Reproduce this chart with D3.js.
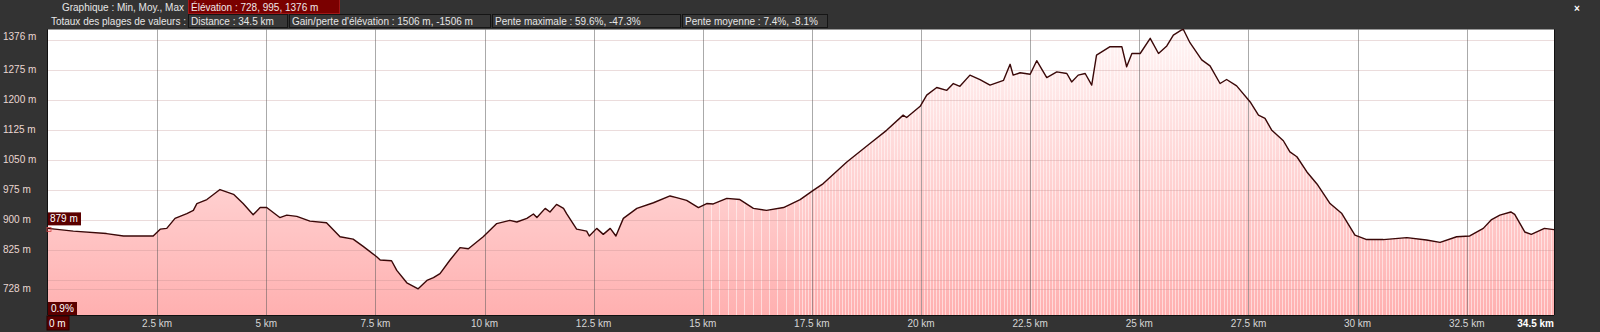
<!DOCTYPE html>
<html><head><meta charset="utf-8">
<script src="https://cdn.jsdelivr.net/npm/d3@7"></script>
<style>
html,body{margin:0;padding:0;background:#333;overflow:hidden}
svg{display:block}
text{font-family:"Liberation Sans",Arial,sans-serif;font-size:10px}
</style></head>
<body>
<svg id="c" width="1600" height="332"></svg>
<script>
// ---------- DATA ----------
const distanceKm = [0,0.58,1.34,1.73,2.41,2.57,2.72,2.91,3.18,3.33,3.41,3.64,3.94,4.25,4.47,4.70,4.86,5.01,5.31,5.47,5.70,6.00,6.38,6.69,6.99,7.22,7.53,7.61,7.87,7.99,8.22,8.48,8.68,8.83,8.98,9.21,9.44,9.63,9.97,10.28,10.58,10.74,10.97,11.12,11.20,11.39,11.50,11.65,11.81,11.88,12.11,12.34,12.40,12.57,12.72,12.88,13.01,13.18,13.49,13.87,14.25,14.40,14.63,14.90,15.09,15.24,15.55,15.85,16.16,16.46,16.85,17.23,17.53,17.76,18.30,18.83,19.21,19.59,19.67,19.98,20.13,20.36,20.59,20.74,20.89,21.12,21.35,21.58,21.89,22.04,22.11,22.27,22.50,22.65,22.88,23.11,23.34,23.45,23.60,23.76,23.91,24.02,24.33,24.60,24.71,24.83,25.02,25.25,25.44,25.63,25.78,25.97,26.01,26.16,26.43,26.62,26.85,27.00,27.23,27.54,27.73,27.88,28.03,28.30,28.45,28.61,28.84,29.07,29.37,29.64,29.94,30.21,30.59,31.13,31.58,31.89,32.27,32.57,32.88,33.07,33.26,33.51,33.60,33.83,33.98,34.28,34.5];
const elevationM = [879,872,866,860,860,877,879,904,916,924,941,951,976,964,941,913,931,931,906,912,909,897,893,858,852,834,808,800,798,774,743,728,749,756,766,800,831,828,858,891,899,895,904,915,906,929,920,939,929,916,877,872,860,879,864,879,860,904,929,943,960,956,949,931,941,940,954,951,929,924,931,951,974,991,1045,1091,1124,1162,1156,1184,1212,1231,1224,1241,1234,1262,1251,1237,1249,1289,1262,1268,1264,1298,1256,1270,1266,1245,1262,1266,1237,1312,1333,1333,1283,1316,1316,1354,1316,1335,1362,1375,1376,1343,1300,1285,1241,1251,1235,1195,1162,1154,1125,1098,1070,1058,1020,990,941,916,862,851,851,856,850,844,858,860,879,901,912,920,914,870,864,879,876];

const yGridValues = [1350,1275,1200,1125,1050,975,900,825,750,728];
const yLabelValues = [1376,1275,1200,1125,1050,975,900,825,728];
const yLabels = ["1376 m","1275 m","1200 m","1125 m","1050 m","975 m","900 m","825 m","728 m"];
const xTickValues = [0,2.5,5,7.5,10,12.5,15,17.5,20,22.5,25,27.5,30,32.5,34.5];
const xTickLabels = ["0 m","2.5 km","5 km","7.5 km","10 km","12.5 km","15 km","17.5 km","20 km","22.5 km","25 km","27.5 km","30 km","32.5 km","34.5 km"];

const headerRow1Label = "Graphique : Min, Moy., Max";
const headerRow1Value = "Élévation : 728, 995, 1376 m";
const headerRow2Label = "Totaux des plages de valeurs :";
const headerRow2Values = ["Distance : 34.5 km","Gain/perte d'élévation : 1506 m, -1506 m","Pente maximale : 59.6%, -47.3%","Pente moyenne : 7.4%, -8.1%"];
const startLabel = "879 m";
const slopeLabel = "0.9%";

// ---------- LAYOUT ----------
const L = 48, R = 1554, T = 29.5, B = 315;
const svg = d3.select("#c");
const x = d3.scaleLinear().domain([0, 34.5]).range([L, R]);
const y = d3.scaleLinear().domain([662.5, 1376]).range([B, T]);
const data = distanceKm.map((d,i)=>({d, e: elevationM[i]}));

// background
svg.append("rect").attr("width",1600).attr("height",332).attr("fill","#333");
svg.append("rect").attr("x",L).attr("y",T).attr("width",R-L).attr("height",B-T).attr("fill","#fff");

const defs = svg.append("defs");
const grad = defs.append("linearGradient").attr("id","fillg").attr("gradientUnits","userSpaceOnUse")
  .attr("x1",0).attr("y1",T).attr("x2",0).attr("y2",B);
grad.append("stop").attr("offset","0").attr("stop-color","#fff6f6");
grad.append("stop").attr("offset","0.55").attr("stop-color","#ffd0d0");
grad.append("stop").attr("offset","1").attr("stop-color","#ffb0b0");

const area = d3.area().x(d=>x(d.d)).y0(B).y1(d=>y(d.e));
const line = d3.line().x(d=>x(d.d)).y(d=>y(d.e));

defs.append("clipPath").attr("id","areaclip").append("path").attr("d", area(data));

svg.append("path").attr("d", area(data)).attr("fill","url(#fillg)");

// sample stripes (rendering artefact of the original)
const stripes = d3.range(15.0, 17.2, 0.19).concat(d3.range(17.2, 34.45, 0.07));
svg.append("g").attr("clip-path","url(#areaclip)").selectAll("line").data(stripes).join("line")
  .attr("x1",d=>Math.round(x(d))+0.5).attr("x2",d=>Math.round(x(d))+0.5)
  .attr("y1",T).attr("y2",B).attr("stroke","#fff").attr("stroke-opacity",0.5).attr("stroke-width",1);

// grid
svg.append("g").selectAll("line").data(yGridValues).join("line")
  .attr("x1",L).attr("x2",R).attr("y1",d=>Math.round(y(d))+0.5).attr("y2",d=>Math.round(y(d))+0.5)
  .attr("stroke","rgb(190,140,140)").attr("stroke-opacity",0.3);
svg.append("g").selectAll("line").data(xTickValues.filter(v=>v>0 && v<34.5)).join("line")
  .attr("x1",d=>Math.round(x(d))+0.5).attr("x2",d=>Math.round(x(d))+0.5).attr("y1",T).attr("y2",B)
  .attr("stroke","#555").attr("stroke-opacity",0.5);

// profile line
svg.append("path").attr("d", line(data)).attr("fill","none").attr("stroke","#3a0808").attr("stroke-width",1.4).attr("stroke-linejoin","round");

// plot frame
svg.append("line").attr("x1",L-0.5).attr("x2",L-0.5).attr("y1",T).attr("y2",B).attr("stroke","#111");
svg.append("line").attr("x1",R+0.5).attr("x2",R+0.5).attr("y1",T).attr("y2",B).attr("stroke","#111");
svg.append("line").attr("x1",L).attr("x2",R).attr("y1",B+0.5).attr("y2",B+0.5).attr("stroke","#111");

// y labels
svg.append("g").selectAll("text").data(yLabelValues).join("text")
  .attr("x",3).attr("y",(d)=>Math.max(y(d),36)+3.5).attr("fill","#ead7d2").text((d,i)=>yLabels[i]);

// x labels
const xl = svg.append("g");
xTickValues.forEach((v,i)=>{
  if(i===0){
    xl.append("rect").attr("x",47).attr("y",316).attr("width",22).attr("height",14).attr("fill","#5a0000").attr("stroke","#2a0000");
    xl.append("text").attr("x",49).attr("y",327).attr("fill","#fff").text(xTickLabels[i]);
  } else if(i===xTickValues.length-1){
    xl.append("text").attr("x",x(v)).attr("y",327).attr("text-anchor","end").attr("fill","#fff").attr("font-weight","bold").text(xTickLabels[i]);
  } else {
    xl.append("text").attr("x",x(v)).attr("y",327).attr("text-anchor","middle").attr("fill","#d6d6d6").text(xTickLabels[i]);
  }
});

// start value label
const y0 = y(elevationM[0]);
svg.append("rect").attr("x",48).attr("y",y0-16).attr("width",33).attr("height",13).attr("fill","#5a0000");
svg.append("text").attr("x",50).attr("y",y0-6).attr("fill","#fff").text(startLabel);
svg.append("rect").attr("x",47).attr("y",y0-1).attr("width",4).attr("height",4).attr("fill","none").attr("stroke","#d04040").attr("stroke-width",0.8);
// slope label
svg.append("rect").attr("x",48).attr("y",302).attr("width",29).attr("height",13).attr("fill","#5a0000");
svg.append("text").attr("x",51).attr("y",312).attr("fill","#fff").text(slopeLabel);

// header
const h = svg.append("g");
h.append("text").attr("x",184).attr("y",10.5).attr("text-anchor","end").attr("fill","#e6e6e6").text(headerRow1Label);
h.append("rect").attr("x",188.5).attr("y",-0.5).attr("width",151).attr("height",14).attr("fill","#7a0000").attr("stroke","#a01818");
h.append("text").attr("x",191).attr("y",10.5).attr("fill","#f0e8e8").text(headerRow1Value);
h.append("text").attr("x",186).attr("y",25).attr("text-anchor","end").attr("fill","#e6e6e6").text(headerRow2Label);
const boxX = [188, 289, 492, 682], boxW = [99, 201, 188, 145];
headerRow2Values.forEach((t,i)=>{
  h.append("rect").attr("x",boxX[i]+0.5).attr("y",14.5).attr("width",boxW[i]).attr("height",13).attr("fill","#383838").attr("stroke","#151515");
  h.append("text").attr("x",boxX[i]+3).attr("y",25).attr("fill","#e6e6e6").text(t);
});
h.append("text").attr("x",1577).attr("y",12).attr("text-anchor","middle").attr("fill","#fff").attr("font-weight","bold").attr("font-size","13px").text("×");
</script>
</body></html>
